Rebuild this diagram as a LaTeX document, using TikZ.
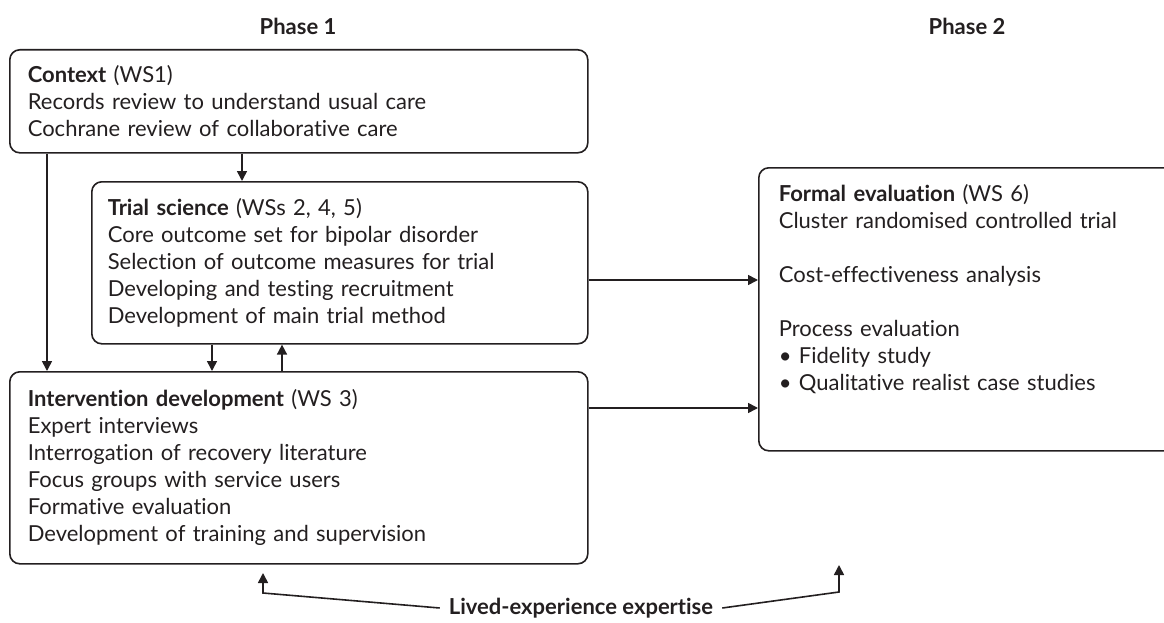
\documentclass[tikz,border=0pt]{standalone}
\usepackage{fontspec}
\setmainfont{Lato}[Ligatures={NoCommon}]
\usetikzlibrary{arrows.meta,calc}
\definecolor{ink}{HTML}{231F20}

\begin{document}
\begin{tikzpicture}[x=1pt,y=-1pt,
  every node/.style={font=\fontsize{22}{27}\selectfont, text=ink},
  box/.style={draw=ink, line width=1.6pt, rounded corners=10pt, anchor=north west,
              align=left, inner xsep=18pt, inner ysep=0pt},
  link/.style={draw=ink, line width=1.6pt, -{Triangle[length=10pt,width=10pt]}},
  phase/.style={font=\fontsize{22}{27}\selectfont\bfseries},
]
\useasboundingbox (0,0) rectangle (1164,623);
\clip (0,0) rectangle (1164,623);

% column headings
\node[phase] (p1) at (298,26) {Phase 1};
\node[phase] (p2) at (967,26) {Phase 2};

% phase 1 work streams
\node[box, text width=542pt, minimum height=103pt] (ctx) at (9,49)
  {\textbf{Context} (WS1)\\
   Records review to understand usual care\\
   Cochrane review of collaborative care};

\node[box, inner xsep=16pt, text width=464pt, minimum height=162pt] (trial) at (91,181)
  {\textbf{Trial science} (WSs 2, 4, 5)\\
   Core outcome set for bipolar disorder\\
   Selection of outcome measures for trial\\
   Developing and testing recruitment\\
   Development of main trial method};

\node[box, text width=542pt, minimum height=192pt] (intv) at (9,371)
  {\textbf{Intervention development} (WS 3)\\
   Expert interviews\\
   Interrogation of recovery literature\\
   Focus groups with service users\\
   Formative evaluation\\
   Development of training and supervision};

% phase 2 (box runs off the right edge)
\node[box, inner xsep=20pt, inner ysep=17pt, text width=382pt] (fe) at (758,167)
  {\parbox[t][249pt][t]{382pt}{%
   \textbf{Formal evaluation} (WS 6)\\
   Cluster randomised controlled trial\\[27pt]
   Cost-effectiveness analysis\\[27pt]
   Process evaluation\\
   • Fidelity study\\
   • Qualitative realist case studies}};

% connector positions
\coordinate (xa) at (47,0);
\coordinate (xb) at (242,0);
\coordinate (xc) at (212,0);
\coordinate (xd) at (282,0);
\coordinate (ya) at (0,280);
\coordinate (yb) at (0,408);

\draw[link] (ctx.south -| xb) -- (trial.north -| xb);
\draw[link] (ctx.south -| xa) -- (intv.north -| xa);
\draw[link] (trial.south -| xc) -- (intv.north -| xc);
\draw[link] (intv.north -| xd) -- (trial.south -| xd);
\draw[link] (trial.east |- ya) -- (fe.west |- ya);
\draw[link] (intv.east |- yb) -- (fe.west |- yb);

% lived-experience input
\node[font=\fontsize{22}{27}\selectfont\bfseries, inner xsep=9pt] (lived) at (581,608)
  {Lived-experience expertise};
\coordinate (lk) at (263,593);
\coordinate (ltip) at (263,573);
\coordinate (rk) at (839,592);
\coordinate (rtip) at (839,565);
\draw[link] (lived.west) -- (lk) -- (ltip);
\draw[link] (lived.east) -- (rk) -- (rtip);
\end{tikzpicture}
\end{document}
